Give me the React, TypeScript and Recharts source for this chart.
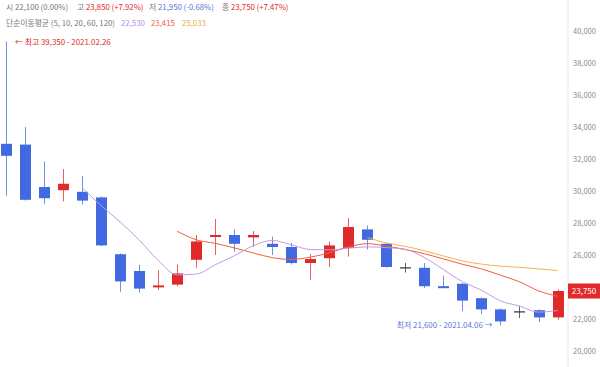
import React from 'react';
import { ComposedChart, Bar, Line, XAxis, YAxis, ReferenceDot } from 'recharts';

const opens = [32950, 32900, 30250, 30050, 29950, 29600, 26050, 25000, 24050, 24150, 25700, 27150, 27250, 27100, 26700, 26500, 25500, 25800, 26450, 27600, 26700, 25200, 25200, 24050, 24200, 23300, 22600, 22450, 22550, 22100];
const highs = [39350, 34000, 31850, 31375, 30950, 29650, 26100, 25400, 25050, 25400, 27250, 28250, 27600, 27500, 27150, 26750, 26050, 26850, 28300, 27850, 26750, 25500, 25500, 24700, 24250, 23350, 22650, 22800, 22600, 23850];
const lows = [29700, 29400, 29200, 29350, 29150, 26550, 23700, 23650, 23800, 24050, 25200, 26000, 26200, 26500, 26000, 25400, 24450, 25250, 25900, 26350, 25200, 24900, 23950, 24000, 22500, 22300, 21600, 22050, 21800, 21950];
const closes = [32200, 29450, 29550, 30450, 29400, 26600, 24350, 23900, 24100, 24850, 26850, 27250, 26700, 27250, 26500, 25500, 25750, 26600, 27750, 26950, 25250, 25200, 24050, 24000, 23150, 22600, 21850, 22450, 22100, 23750];
const ma5 = [null, null, null, null, 30210, 29090, 28070, 26940, 25670, 24760, 24810, 25390, 25950, 26580, 26910, 26640, 26340, 26320, 26420, 26510, 26460, 26350, 25840, 25090, 24330, 23800, 23130, 22810, 22430, 22530];
const ma10 = [null, null, null, null, null, null, null, null, null, 27485, 26950, 26730, 26445, 26125, 25835, 25725, 25865, 26135, 26500, 26710, 26550, 26345, 26080, 25755, 25420, 25130, 24740, 24325, 23760, 23415];
const ma20 = [null, null, null, null, null, null, null, null, null, null, null, null, null, null, null, null, null, null, null, 27100, 26750, 26540, 26260, 25940, 25630, 25430, 25300, 25230, 25130, 25033];
const yTicks = [20000, 22000, 23750, 26000, 28000, 30000, 32000, 34000, 36000, 38000, 40000];

const data = opens.map((o, i) => ({
  i,
  open: o,
  high: highs[i],
  low: lows[i],
  close: closes[i],
  range: [lows[i], highs[i]],
  ma5: ma5[i],
  ma10: ma10[i],
  ma20: ma20[i],
}));

const RED = '#e02a2a';
const BLUE = '#4169e1';
const FONT = '"Noto Sans CJK KR", "Noto Sans", sans-serif';

const Candle = (props: any) => {
  const { x, y, width, height, payload } = props;
  if (payload == null || x == null) return null;
  const { open, close, high, low } = payload;
  const span = high - low;
  const pix = (v: number) => (span === 0 ? y : y + ((high - v) / span) * height);
  const color = close > open ? RED : close < open ? BLUE : '#333333';
  const cx = Math.round(x + width / 2) + 0.5;
  const top = pix(Math.max(open, close));
  const bot = pix(Math.min(open, close));
  const bh = Math.max(bot - top, 2);
  return (
    <g>
      <line x1={cx} x2={cx} y1={y} y2={y + height} stroke={color} strokeWidth={1} strokeOpacity={0.75} />
      <rect x={cx - 5.5} y={open === close ? top - 0.5 : top} width={11} height={open === close ? 1.2 : bh} fill={color} />
    </g>
  );
};

const Tick = (props: any) => {
  const { y, payload } = props;
  const v = payload.value;
  if (v === 23750) {
    return (
      <g>
        <rect x={568} y={y - 7.5} width={32} height={15} fill={RED} />
        <text x={584} y={y + 3} textAnchor="middle" fontSize={8} fill="#ffffff" fontFamily={FONT}>
          {v.toLocaleString('en-US')}
        </text>
      </g>
    );
  }
  return (
    <text x={573} y={y + 3} textAnchor="start" fontSize={7.5} fill="#8a8a8a" fontFamily={FONT}>
      {v.toLocaleString('en-US')}
    </text>
  );
};

const HighLabel = (props: any) => {
  const { cx, cy } = props;
  return (
    <text x={cx + 9} y={cy + 3.5} fontSize={7.9} fill={RED} fontFamily={FONT}>
      ← 최고 39,350 - 2021.02.26
    </text>
  );
};

const LowLabel = (props: any) => {
  const { cx, cy } = props;
  return (
    <text x={cx - 8} y={cy + 3} fontSize={7.9} fill="#5577dd" textAnchor="end" fontFamily={FONT}>
      최저 21,600 - 2021.04.06 →
    </text>
  );
};

const span = (left: number, top: number, text: string, color: string) => (
  <span style={{ position: 'absolute', left, top, color, whiteSpace: 'nowrap' }}>{text}</span>
);

export default function App() {
  return (
    <div style={{ position: 'absolute', left: 0, top: 0, width: 600, height: 367, background: '#ffffff', fontFamily: FONT }}>
      <ComposedChart width={600} height={367} data={data} margin={{ top: 0, right: 0, bottom: 0, left: 0 }}>
        <XAxis dataKey="i" type="number" domain={[-0.315, 29.55]} hide />
        <YAxis
          orientation="right"
          width={32}
          domain={[19000, 41937.5]}
          ticks={yTicks}
          interval={0}
          tickLine={false}
          axisLine={{ stroke: '#e8e8e8' }}
          tick={<Tick />}
          allowDataOverflow
        />
        <Bar dataKey="range" barSize={11} shape={<Candle />} isAnimationActive={false} />
        <Line dataKey="ma20" stroke="#f2b450" strokeWidth={1} dot={false} type="monotone" isAnimationActive={false} />
        <Line dataKey="ma10" stroke="#f0603c" strokeWidth={1} dot={false} type="monotone" isAnimationActive={false} />
        <Line dataKey="ma5" stroke="#c49ae8" strokeWidth={1} dot={false} type="monotone" isAnimationActive={false} />
        <ReferenceDot x={0} y={39350} r={0} shape={<HighLabel />} />
        <ReferenceDot x={26} y={21600} r={0} shape={<LowLabel />} />
      </ComposedChart>
      <div style={{ position: 'absolute', left: 0, top: 0, width: 600, height: 40, fontSize: 7.8, lineHeight: '10px' }}>
        {span(6, 2, '시', '#777777')}
        {span(15, 2, '22,100 (0.00%)', '#777777')}
        {span(77, 2, '고', '#777777')}
        {span(86, 2, '23,850 (+7.92%)', RED)}
        {span(149, 2, '저', '#777777')}
        {span(158, 2, '21,950 (-0.68%)', '#5577dd')}
        {span(222, 2, '종', '#777777')}
        {span(231, 2, '23,750 (+7.47%)', RED)}
        {span(6, 18, '단순이동평균 (5, 10, 20, 60, 120)', '#777777')}
        {span(121, 18, '22,530', '#b48ee8')}
        {span(151, 18, '23,415', '#f0603c')}
        {span(182, 18, '25,033', '#f0b040')}
      </div>
    </div>
  );
}
